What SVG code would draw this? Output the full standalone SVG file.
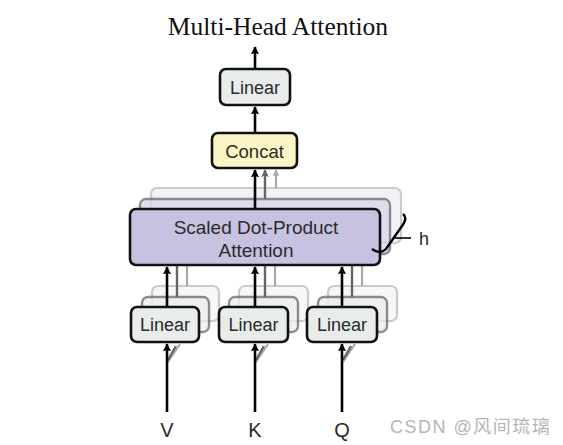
<svg xmlns="http://www.w3.org/2000/svg" width="563" height="445" viewBox="0 0 563 445">
<defs>
<style>
.box{stroke:#111;stroke-width:2.6}
.lin{fill:#e8ecea}
.s1{stroke:#666;stroke-width:2.4;opacity:0.75}
.s2{stroke:#aaa;stroke-width:2.2;opacity:0.6}
.t{font-family:"Liberation Sans",Arial,sans-serif;fill:#2a2a2a;text-anchor:middle}
.a{stroke:#000;stroke-width:2.6;fill:none}
.ag{stroke:#666;stroke-width:2.4;fill:none}
.al{stroke:#aaa;stroke-width:2.2;fill:none}
</style>
<marker id="mk" viewBox="0 0 10 10" refX="9" refY="5" markerWidth="3.2" markerHeight="3.2" orient="auto" markerUnits="strokeWidth"><path d="M0,0 L10,5 L0,10 L2,5 z" fill="#000"/></marker>
<marker id="mg" viewBox="0 0 10 10" refX="9" refY="5" markerWidth="3.2" markerHeight="3.2" orient="auto" markerUnits="strokeWidth"><path d="M0,0 L10,5 L0,10 L2,5 z" fill="#666"/></marker>
<marker id="ml" viewBox="0 0 10 10" refX="9" refY="5" markerWidth="3.2" markerHeight="3.2" orient="auto" markerUnits="strokeWidth"><path d="M0,0 L10,5 L0,10 L2,5 z" fill="#aaa"/></marker>
</defs>
<rect width="563" height="445" fill="#fff"/>
<text x="278" y="35" font-family="Liberation Serif,Times New Roman,serif" font-size="25.5" fill="#111" text-anchor="middle">Multi-Head Attention</text>

<g id="sdpa-shadows">
<rect x="151" y="188" width="250" height="55" rx="6" fill="#ebe9f3" class="s2"/>
<rect x="140" y="199" width="250" height="55" rx="6" fill="#d9d4ea" class="s1"/>
</g>
<g id="linear-shadows">
<rect x="152" y="286" width="67" height="35" rx="6" fill="#f1f3f2" class="s2"/>
<rect x="142" y="297" width="67" height="35" rx="6" fill="#eceeed" class="s1"/>
<rect x="239" y="286" width="69" height="35" rx="6" fill="#f1f3f2" class="s2"/>
<rect x="229" y="297" width="69" height="35" rx="6" fill="#eceeed" class="s1"/>
<rect x="328" y="286" width="69" height="35" rx="6" fill="#f1f3f2" class="s2"/>
<rect x="318" y="297" width="69" height="35" rx="6" fill="#eceeed" class="s1"/>
</g>

<g id="connectors">
<line class="al" x1="276" y1="188" x2="276" y2="170" marker-end="url(#ml)"/>
<line class="ag" x1="265" y1="199" x2="265" y2="170" marker-end="url(#mg)"/>
<line class="a" x1="255" y1="209" x2="255" y2="170" marker-end="url(#mk)"/>
<line class="a" x1="255" y1="133" x2="255" y2="107" marker-end="url(#mk)"/>
<line class="a" x1="255" y1="69" x2="255" y2="47" marker-end="url(#mk)"/>
<line class="al" x1="187" y1="286" x2="187" y2="266"/>
<line class="ag" x1="177" y1="297" x2="177" y2="266"/>
<line class="a" x1="167" y1="307" x2="167" y2="267" marker-end="url(#mk)"/>
<line class="al" x1="275" y1="286" x2="275" y2="266"/>
<line class="ag" x1="265" y1="297" x2="265" y2="266"/>
<line class="a" x1="255" y1="307" x2="255" y2="267" marker-end="url(#mk)"/>
<line class="al" x1="362" y1="286" x2="362" y2="266"/>
<line class="ag" x1="352" y1="297" x2="352" y2="266"/>
<line class="a" x1="342" y1="307" x2="342" y2="267" marker-end="url(#mk)"/>
<line class="al" x1="168" y1="362" x2="180" y2="344"/>
<line class="ag" x1="168" y1="360" x2="176" y2="346"/>
<line class="al" x1="256" y1="362" x2="268" y2="344"/>
<line class="ag" x1="256" y1="360" x2="264" y2="346"/>
<line class="al" x1="343" y1="362" x2="355" y2="344"/>
<line class="ag" x1="343" y1="360" x2="351" y2="346"/>
<line class="a" x1="167" y1="412" x2="167" y2="344" marker-end="url(#mk)"/>
<line class="a" x1="255" y1="412" x2="255" y2="344" marker-end="url(#mk)"/>
<line class="a" x1="342" y1="412" x2="342" y2="344" marker-end="url(#mk)"/>
</g>

<g id="linear-top">
<rect class="box lin" x="220" y="69" width="70" height="36" rx="6"/>
<text class="t" x="255" y="93.5" font-size="18">Linear</text>
</g>
<g id="concat">
<rect class="box" x="212" y="133" width="85" height="35" rx="6" fill="#fbf5c6"/>
<text class="t" x="254.5" y="157.5" font-size="18.5">Concat</text>
</g>
<g id="sdpa">
<rect class="box" x="130" y="209" width="250" height="56" rx="6" fill="#c8c2e1"/>
<text class="t" x="256" y="234" font-size="19">Scaled Dot-Product</text>
<text class="t" x="256" y="257" font-size="19">Attention</text>
</g>
<g id="h-brace">
<path d="M372,249 Q380,255 386,249 L402,226 Q408,218 403,214" fill="none" stroke="#000" stroke-width="2.4"/>
<line x1="395" y1="238" x2="411" y2="238" stroke="#000" stroke-width="1.6"/>
<text class="t" x="424" y="245" font-size="18" fill="#111">h</text>
</g>
<g id="linear-v">
<rect class="box lin" x="131" y="307" width="68" height="35" rx="6"/>
<text class="t" x="165" y="331" font-size="18">Linear</text>
</g>
<g id="linear-k">
<rect class="box lin" x="219" y="307" width="69" height="35" rx="6"/>
<text class="t" x="253.5" y="331" font-size="18">Linear</text>
</g>
<g id="linear-q">
<rect class="box lin" x="307" y="307" width="70" height="35" rx="6"/>
<text class="t" x="342" y="331" font-size="18">Linear</text>
</g>
<g id="inputs">
<text class="t" x="167" y="437" font-size="20">V</text>
<text class="t" x="255" y="437" font-size="20">K</text>
<text class="t" x="342" y="437" font-size="20">Q</text>
</g>
<text x="390" y="433" font-family="Liberation Sans,Arial,Noto Sans CJK SC,sans-serif" font-size="18" letter-spacing="1.5" fill="#b5b5b5">CSDN @风间琉璃</text>
</svg>
